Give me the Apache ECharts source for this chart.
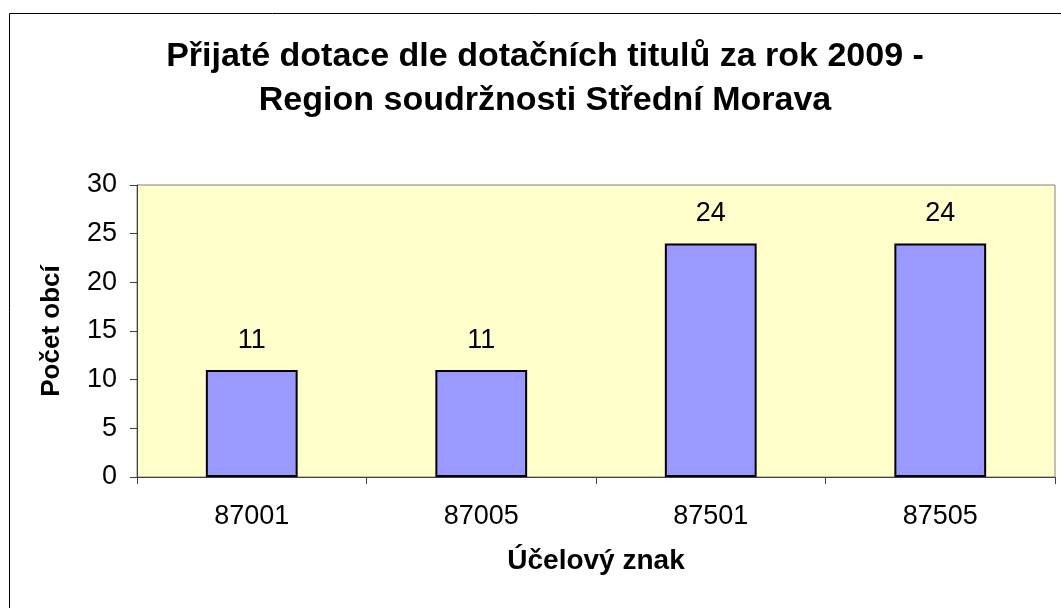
<!DOCTYPE html>
<html>
<head>
<meta charset="utf-8">
<script src="https://cdn.jsdelivr.net/npm/echarts@6/dist/echarts.min.js"></script>
<style>
  html, body { margin: 0; padding: 0; background: #fff; }
  #chart { width: 1061px; height: 608px; }
</style>
</head>
<body>
<div id="chart"></div>
<script>
// data
const titleLines = ['Přijaté dotace dle dotačních titulů za rok 2009 -', 'Region soudržnosti Střední Morava']
const categories = ['87001', '87005', '87501', '87505']
const obce = [11, 11, 24, 24]
const yTicks = { min: 0, max: 30, interval: 5 }

const font = 'Liberation Sans, Arial, sans-serif'

const chart = echarts.init(document.getElementById('chart'), null, { renderer: 'canvas' })

chart.setOption({
    animation: false,
    backgroundColor: '#fff',
    // title is centred on the whole chart frame, which runs past the right edge
    title: {
        text: titleLines.join('\n'),
        left: 540,
        textAlign: 'center',
        top: 30,
        textStyle: {
            fontFamily: font,
            fontSize: 34,
            fontWeight: 'bold',
            color: '#000',
            lineHeight: 44
        }
    },
    // outer chart frame, runs off the right and bottom edge
    graphic: [{
        type: 'rect',
        shape: { x: 9.5, y: 13.5, width: 1200, height: 800 },
        style: { fill: null, stroke: '#000', lineWidth: 1 },
        z: -1
    }],
    grid: {
        left: 137,
        right: 6,
        top: 185,
        bottom: 131,
        show: true,
        backgroundColor: '#FFFFCC',
        borderColor: '#808080',
        borderWidth: 1,
        containLabel: false,
        outerBoundsMode: 'none'
    },
    xAxis: {
        type: 'category',
        data: categories,
        boundaryGap: true,
        name: 'Účelový znak',
        nameLocation: 'middle',
        nameGap: 70,
        nameTextStyle: { fontFamily: font, fontSize: 28, fontWeight: 'bold', color: '#000' },
        axisLine: { lineStyle: { color: '#404040', width: 1 } },
        axisTick: { show: true, alignWithLabel: false, length: 7, lineStyle: { color: '#404040' } },
        axisLabel: { fontFamily: font, fontSize: 27, color: '#000', margin: 26 },
        splitLine: { show: false }
    },
    yAxis: {
        type: 'value',
        min: yTicks.min,
        max: yTicks.max,
        interval: yTicks.interval,
        name: 'Počet obcí',
        nameLocation: 'middle',
        nameGap: 72,
        nameRotate: 90,
        nameTextStyle: { fontFamily: font, fontSize: 26, fontWeight: 'bold', color: '#000' },
        axisLine: { show: true, lineStyle: { color: '#404040', width: 1 } },
        axisTick: { show: true, length: 7, lineStyle: { color: '#404040' } },
        axisLabel: { fontFamily: font, fontSize: 27, color: '#000', margin: 20 },
        splitLine: { show: false }
    },
    series: [{
        type: 'bar',
        data: obce,
        barWidth: '40%',
        itemStyle: { color: '#9999FF', borderColor: '#000', borderWidth: 2 },
        label: {
            show: true,
            position: 'top',
            distance: 16,
            fontFamily: font,
            fontSize: 27,
            color: '#000'
        }
    }]
})
</script>
</body>
</html>
